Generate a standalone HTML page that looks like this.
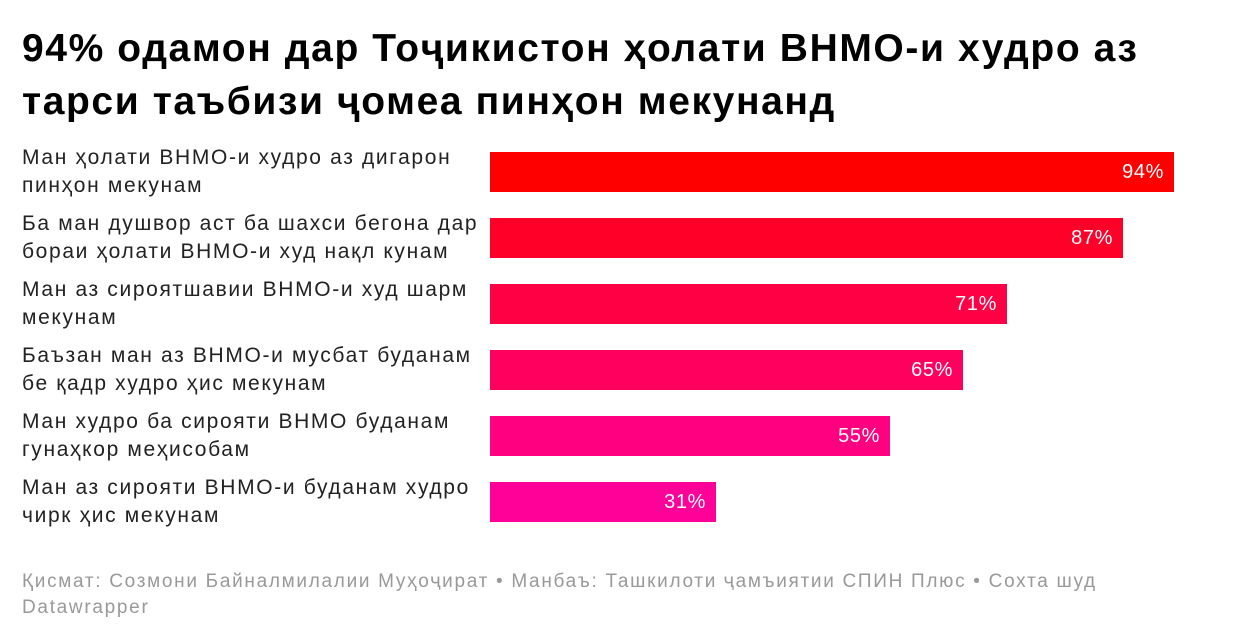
<!DOCTYPE html>
<html><head><meta charset="utf-8"><style>
body{margin:0;width:1240px;height:642px;background:#fff;font-family:"Liberation Sans",Arial,sans-serif;position:relative;overflow:hidden}
.t{position:absolute;left:22px;top:22px;font-size:39px;font-weight:bold;line-height:53px;color:#000;letter-spacing:1.6px}
.l{position:absolute;left:22px;font-size:21px;line-height:28px;color:#222;letter-spacing:1.65px}
.b{position:absolute;left:490px;height:40px}
.v{position:absolute;right:10px;top:0;line-height:40px;color:#fff;font-size:20px;letter-spacing:0.6px}
.f{position:absolute;left:22px;top:569px;font-size:19px;line-height:26px;color:#999;letter-spacing:1.7px}
</style></head><body>
<div class="t">94% одамон дар Тоҷикистон ҳолати ВНМО-и худро аз<br>тарси таъбизи ҷомеа пинҳон мекунанд</div>
<div class="l" style="top:144px">Ман ҳолати ВНМО-и худро аз дигарон<br>пинҳон мекунам</div>
<div class="l" style="top:210px">Ба ман душвор аст ба шахси бегона дар<br>бораи ҳолати ВНМО-и худ нақл кунам</div>
<div class="l" style="top:276px">Ман аз сироятшавии ВНМО-и худ шарм<br>мекунам</div>
<div class="l" style="top:342px">Баъзан ман аз ВНМО-и мусбат буданам<br>бе қадр худро ҳис мекунам</div>
<div class="l" style="top:408px">Ман худро ба сирояти ВНМО буданам<br>гунаҳкор меҳисобам</div>
<div class="l" style="top:474px">Ман аз сирояти ВНМО-и буданам худро<br>чирк ҳис мекунам</div>
<div class="b" style="top:152px;width:684px;background:#ff0000"><span class="v">94%</span></div>
<div class="b" style="top:218px;width:633px;background:#ff0028"><span class="v">87%</span></div>
<div class="b" style="top:284px;width:517px;background:#ff0044"><span class="v">71%</span></div>
<div class="b" style="top:350px;width:473px;background:#ff005e"><span class="v">65%</span></div>
<div class="b" style="top:416px;width:400px;background:#ff0080"><span class="v">55%</span></div>
<div class="b" style="top:482px;width:226px;background:#ff0099"><span class="v">31%</span></div>
<div class="f">Қисмат: Созмони Байналмилалии Муҳоҷират • Манбаъ: Ташкилоти ҷамъиятии СПИН Плюс • Сохта шуд<br>Datawrapper</div>
</body></html>
